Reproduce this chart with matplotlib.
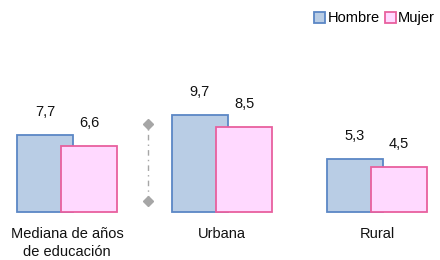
import matplotlib
matplotlib.use("Agg")
import matplotlib.pyplot as plt
from matplotlib.patches import Patch

categories = ["Mediana de años\nde educación", "Urbana", "Rural"]
hombre = [7.7, 9.7, 5.3]
mujer = [6.6, 8.5, 4.5]
series_names = ["Hombre", "Mujer"]

plt.rcParams['font.family'] = ['Liberation Sans', 'DejaVu Sans']

fig = plt.figure(figsize=(4.4, 2.6), dpi=100)
ax = fig.add_axes([0, 0, 1, 1])
ax.set_xlim(-0.432, 2.406)
ax.set_ylim(-4.8, 21.2)
ax.axis('off')

w = 0.361
off = 0.142
h_face, h_edge = "#B9CDE5", "#5B87C5"
m_face, m_edge = "#FFD9FF", "#E8609E"

x = list(range(len(categories)))
xh = [i - off for i in x]
xm = [i + off for i in x]
ax.bar(xh, hombre, width=w, color=h_face, edgecolor=h_edge, linewidth=1.3, zorder=2)
ax.bar(xm, mujer, width=w, color=m_face, edgecolor=m_edge, linewidth=1.3, zorder=3)

for xi, v in zip(xh, hombre):
    ax.text(xi, v + 1.6, f"{v:.1f}".replace(".", ","), ha='center', va='bottom', fontsize=10.5, color='#111111')
for xi, v in zip(xm, mujer):
    ax.text(xi, v + 1.6, f"{v:.1f}".replace(".", ","), ha='center', va='bottom', fontsize=10.5, color='#111111')

for xi, c in zip(x, categories):
    ax.text(xi, -1.45, c, ha='center', va='top', fontsize=10.5, color='#111111', linespacing=1.45)

# separator
sx = 0.524
ax.plot([sx, sx], [1.1, 8.8], color='#A6A6A6', linestyle=(0, (4, 3, 1, 3)), linewidth=1.0, zorder=1)
ax.plot([sx, sx], [1.1, 8.8], linestyle='none', marker='D', markersize=5, color='#A6A6A6', zorder=1)

handles = [Patch(facecolor=h_face, edgecolor=h_edge, linewidth=1.3),
           Patch(facecolor=m_face, edgecolor=m_edge, linewidth=1.3)]
fig.legend(handles, series_names, loc='upper right', bbox_to_anchor=(1.008, 0.99), ncol=2, frameon=False,
           fontsize=10.5, handlelength=0.75, handleheight=0.75, handletextpad=0.15, columnspacing=0.35,
           borderaxespad=0.2)

fig.savefig("out.png", dpi=100)
